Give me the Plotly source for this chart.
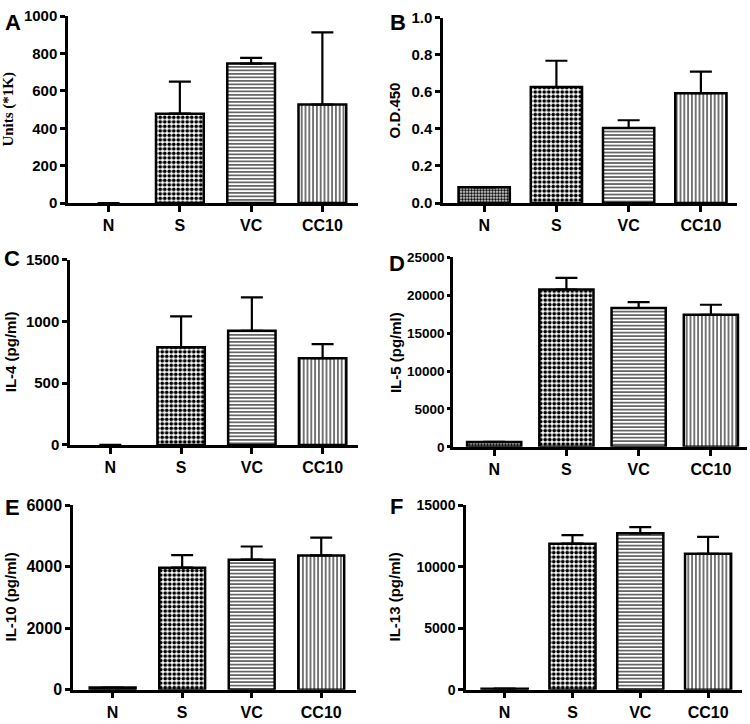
import plotly.graph_objects as go

W, H = 750, 724

categories = ["N", "S", "VC", "CC10"]

# Panel values (mean) and upper error (SEM)
a_vals = [0, 478, 746, 527]
a_err = [0, 172, 31, 386]
b_vals = [0.085, 0.626, 0.405, 0.593]
b_err = [0, 0.142, 0.042, 0.116]
c_vals = [0, 790, 924, 702]
c_err = [0, 250, 270, 114]
d_vals = [650, 20760, 18320, 17420]
d_err = [0, 1540, 770, 1330]
e_vals = [70, 3970, 4230, 4370]
e_err = [0, 410, 430, 580]
f_vals = [80, 11880, 12720, 11060]
f_err = [0, 690, 500, 1380]

a_ticks = [0, 200, 400, 600, 800, 1000]
b_ticks = [0.0, 0.2, 0.4, 0.6, 0.8, 1.0]
c_ticks = [0, 500, 1000, 1500]
d_ticks = [0, 5000, 10000, 15000, 20000, 25000]
e_ticks = [0, 2000, 4000, 6000]
f_ticks = [0, 5000, 10000, 15000]

panels = [
    dict(letter="A", vals=a_vals, err=a_err, ticks=a_ticks, ymax=1000, title="Units (*1K)",
         px=(68, 358), py=(7.3, 199), bw=0.67, fmt="d", serif=True, lpos=(3, 13.5), tx=9,
         tfs=15, tl=5),
    dict(letter="B", vals=b_vals, err=b_err, ticks=b_ticks, ymax=1.0, title="O.D.450",
         px=(443, 737), py=(9, 199), bw=0.71, fmt=".1f", serif=False, lpos=(388, 13.5), tx=394,
         tfs=15, tl=5),
    dict(letter="C", vals=c_vals, err=c_err, ticks=c_ticks, ymax=1500, title="IL-4 (pg/ml)",
         px=(70, 358), py=(257, 447), bw=0.67, fmt="d", serif=False, lpos=(2, 256), tx=10,
         tfs=15, tl=5),
    dict(letter="D", vals=d_vals, err=d_err, ticks=d_ticks, ymax=25000, title="IL-5 (pg/ml)",
         px=(453, 747), py=(254.7, 449), bw=0.75, fmt="d", serif=False, lpos=(387, 260.5), tx=395,
         tfs=13.5, tl=3),
    dict(letter="E", vals=e_vals, err=e_err, ticks=e_ticks, ymax=6000, title="IL-10 (pg/ml)",
         px=(73, 356), py=(509, 698), bw=0.66, fmt="d", serif=False, lpos=(3, 511), tx=10,
         tfs=16, tl=5),
    dict(letter="F", vals=f_vals, err=f_err, ticks=f_ticks, ymax=15000, title="IL-13 (pg/ml)",
         px=(466, 742), py=(509, 698), bw=0.68, fmt="d", serif=False, lpos=(388, 510.5), tx=394,
         tfs=14, tl=5),
]

shapes_pat = [".", ".", "-", "|"]
sizes_pat = [3, 4.5, 3.5, 3.8]
solid_pat = [0.6, 0.55, 0.3, 0.28]

SANS = "Liberation Sans"
SERIF = "Liberation Serif"

fig = go.Figure()
layout = dict(
    width=W, height=H, margin=dict(l=0, r=0, t=0, b=0),
    paper_bgcolor="white", plot_bgcolor="white", showlegend=False,
    annotations=[],
)

for i, p in enumerate(panels):
    n = i + 1
    xa = "x" if n == 1 else f"x{n}"
    ya = "y" if n == 1 else f"y{n}"
    shown = [0 if v == 0 else 1 for v in p["vals"]]
    err_up = [e if e > 0 else None for e in p["err"]]
    fig.add_trace(go.Bar(
        x=categories, y=p["vals"], xaxis=xa, yaxis=ya,
        width=p["bw"],
        marker=dict(
            color="white",
            opacity=shown,
            line=dict(color="black", width=2.5),
            pattern=dict(shape=shapes_pat, size=sizes_pat, solidity=solid_pat,
                         fgcolor="black", bgcolor="white", fillmode="replace"),
        ),
        error_y=dict(type="data", array=err_up, arrayminus=[0] * 4, symmetric=False,
                     visible=True, color="black", thickness=2.2, width=11),
        cliponaxis=False,
        hoverinfo="skip",
    ))
    x0, x1 = p["px"]
    yt, yb = p["py"]
    xkey = "xaxis" if n == 1 else f"xaxis{n}"
    ykey = "yaxis" if n == 1 else f"yaxis{n}"
    layout[xkey] = dict(
        domain=[x0 / W, x1 / W], anchor=ya, range=[-0.57, 3.5],
        showline=True, linecolor="black", linewidth=2.5,
        ticks="outside", ticklen=6, tickwidth=2.5, tickcolor="black",
        showgrid=False, zeroline=False,
        tickfont=dict(family=SANS, size=16, color="black", weight="bold"),
        fixedrange=True,
    )
    layout[ykey] = dict(
        domain=[1 - yb / H, 1 - yt / H], anchor=xa, range=[0, p["ymax"]],
        tickvals=p["ticks"], tickformat=p["fmt"],
        showline=True, linecolor="black", linewidth=2.5,
        ticks="outside", ticklen=p["tl"], tickwidth=2.5, tickcolor="black",
        showgrid=False, zeroline=False,
        tickfont=dict(family=SANS, size=p["tfs"], color="black", weight="bold"),
        fixedrange=True,
    )
    layout["annotations"].append(dict(
        text=p["letter"], xref="paper", yref="paper",
        x=p["lpos"][0] / W, y=1 - p["lpos"][1] / H, xanchor="left", yanchor="middle",
        showarrow=False, font=dict(family=SANS, size=22, color="black", weight="bold"),
    ))
    layout["annotations"].append(dict(
        text=p["title"], xref="paper", yref="paper", textangle=-90,
        x=p["tx"] / W, y=1 - ((yt + yb) / 2) / H, xanchor="center", yanchor="middle",
        showarrow=False,
        font=dict(family=SERIF if p["serif"] else SANS, size=15, color="black", weight="bold"),
    ))

fig.update_layout(**layout)
fig.write_html(
    "out.html",
    config={"displayModeBar": False},
    post_script="document.body.style.margin='0';document.body.style.overflow='hidden';",
)
